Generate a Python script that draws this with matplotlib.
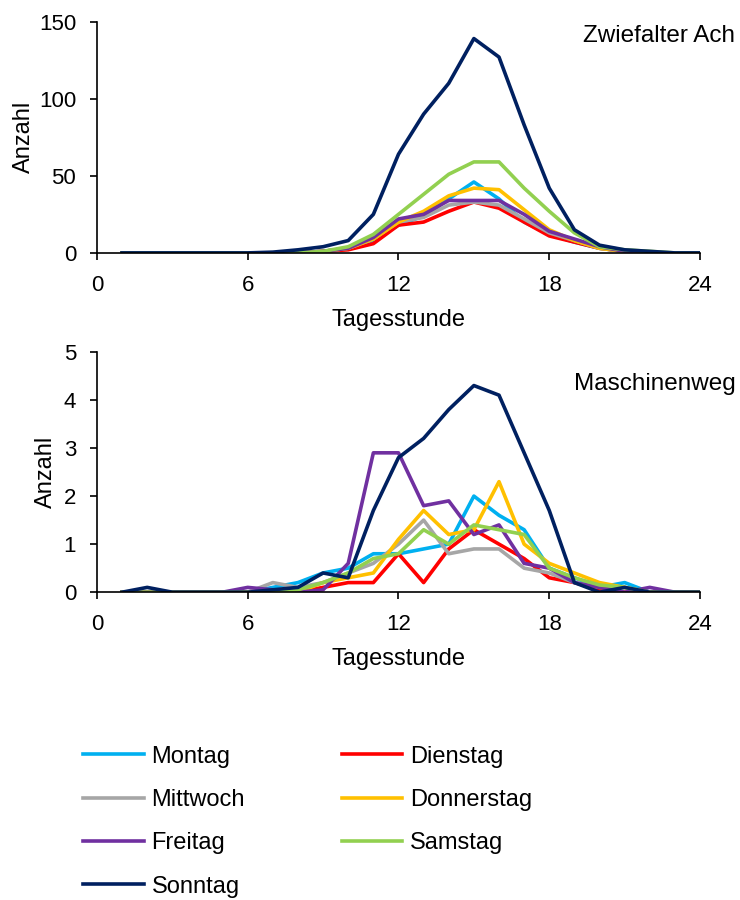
import numpy as np
import matplotlib
matplotlib.use("Agg")
import matplotlib.pyplot as plt

plt.rcParams['font.family'] = ['Liberation Sans', 'DejaVu Sans']

hours = np.arange(1, 25)
days = ['Montag', 'Dienstag', 'Mittwoch', 'Donnerstag', 'Freitag', 'Samstag', 'Sonntag']
colors = ['#00b0f0', '#ff0000', '#a6a6a6', '#ffc000', '#7030a0', '#92d050', '#002060']

# Zwiefalter Ach, counts per hour 1..24
zw_mo = [0, 0, 0, 0, 0, 0, 0, 0, 1, 3, 8, 18, 24, 35, 46, 35, 20, 12, 7, 3, 1, 0, 0, 0]
zw_di = [0, 0, 0, 0, 0, 0, 0, 0, 1, 2, 6, 18, 20, 27, 33, 29, 20, 11, 7, 3, 1, 0, 0, 0]
zw_mi = [0, 0, 0, 0, 0, 0, 0, 0, 1, 3, 9, 20, 23, 31, 33, 31, 22, 13, 8, 3, 1, 0, 0, 0]
zw_do = [0, 0, 0, 0, 0, 0, 0, 0, 1, 3, 9, 20, 27, 37, 42, 41, 28, 15, 8, 3, 1, 0, 0, 0]
zw_fr = [0, 0, 0, 0, 0, 0, 0, 0, 1, 3, 10, 22, 25, 34, 34, 34, 25, 14, 9, 4, 1, 0, 0, 0]
zw_sa = [0, 0, 0, 0, 0, 0, 0, 0, 1, 4, 12, 25, 38, 51, 59, 59, 42, 27, 13, 4, 2, 1, 0, 0]
zw_so = [0, 0, 0, 0, 0, 0, 0.5, 2, 4, 8, 25, 64, 90, 110, 139, 127, 83, 42, 15, 5, 2, 1, 0, 0]

# Maschinenweg
ma_mo = [0, 0, 0, 0, 0, 0, 0.1, 0.2, 0.4, 0.5, 0.8, 0.8, 0.9, 1.0, 2.0, 1.6, 1.3, 0.5, 0.3, 0.1, 0.2, 0, 0, 0]
ma_di = [0, 0, 0, 0, 0, 0, 0, 0, 0.1, 0.2, 0.2, 0.8, 0.2, 0.9, 1.3, 1.0, 0.7, 0.3, 0.2, 0.05, 0, 0, 0, 0]
ma_mi = [0, 0, 0, 0, 0, 0, 0.2, 0.1, 0.2, 0.4, 0.6, 1.0, 1.5, 0.8, 0.9, 0.9, 0.5, 0.4, 0.2, 0.1, 0.1, 0, 0, 0]
ma_do = [0, 0, 0, 0, 0, 0, 0, 0, 0.2, 0.3, 0.4, 1.1, 1.7, 1.2, 1.3, 2.3, 1.0, 0.6, 0.4, 0.2, 0.1, 0, 0, 0]
ma_fr = [0, 0, 0, 0, 0, 0.1, 0.05, 0, 0.05, 0.6, 2.9, 2.9, 1.8, 1.9, 1.2, 1.4, 0.6, 0.5, 0.2, 0.1, 0, 0.1, 0, 0]
ma_sa = [0, 0, 0, 0, 0, 0, 0, 0.05, 0.2, 0.4, 0.7, 0.8, 1.3, 1.0, 1.4, 1.3, 1.2, 0.5, 0.3, 0.15, 0.1, 0, 0, 0]
ma_so = [0, 0.1, 0, 0, 0, 0, 0.05, 0.1, 0.4, 0.3, 1.7, 2.8, 3.2, 3.8, 4.3, 4.1, 2.9, 1.7, 0.2, 0, 0.1, 0, 0, 0]

zw = [zw_mo, zw_di, zw_mi, zw_do, zw_fr, zw_sa, zw_so]
ma = [ma_mo, ma_di, ma_mi, ma_do, ma_fr, ma_sa, ma_so]

fig = plt.figure(figsize=(7.4, 9), dpi=100)
ax1 = fig.add_axes([0.131, 0.719, 0.815, 0.257])
ax2 = fig.add_axes([0.131, 0.342, 0.815, 0.267])

setup = [(ax1, zw, 150, [0, 50, 100, 150], -0.103),
         (ax2, ma, 5, [0, 1, 2, 3, 4, 5], -0.066)]
for ax, data, ymax, yt, ylx in setup:
    lines = []
    for vals, c, d in zip(data, colors, days):
        ln, = ax.plot(hours, vals, color=c, lw=2.6, label=d)
        lines.append(ln)
    ax.set_xlim(0, 24)
    ax.set_ylim(0, ymax)
    ax.set_xticks([0, 6, 12, 18, 24])
    ax.set_yticks(yt)
    for s in ['top', 'right']:
        ax.spines[s].set_visible(False)
    for s in ['left', 'bottom']:
        ax.spines[s].set_linewidth(1.2)
    ax.tick_params(direction='out', length=5, width=1.2, labelsize=16)
    ax.tick_params(axis='x', pad=11)
    ax.tick_params(axis='y', pad=10)
    ax.set_xlabel('Tagesstunde', fontsize=17, labelpad=9)
    ax.set_ylabel('Anzahl', fontsize=17)
    ax.yaxis.set_label_coords(ylx, 0.5)

fig.text(0.890, 0.960, 'Zwiefalter Ach', fontsize=17.5, ha='center', va='center')
fig.text(0.885, 0.573, 'Maschinenweg', fontsize=17.5, ha='center', va='center')

order = [0, 2, 4, 6, 1, 3, 5]
fig.legend([lines[i] for i in order], [days[i] for i in order], ncol=2,
           loc='upper left', bbox_to_anchor=(0.084, 0.195), frameon=False,
           fontsize=17, handlelength=2.55, handletextpad=0.33, labelspacing=0.9,
           columnspacing=4.1)

fig.savefig('out.png', dpi=100)
